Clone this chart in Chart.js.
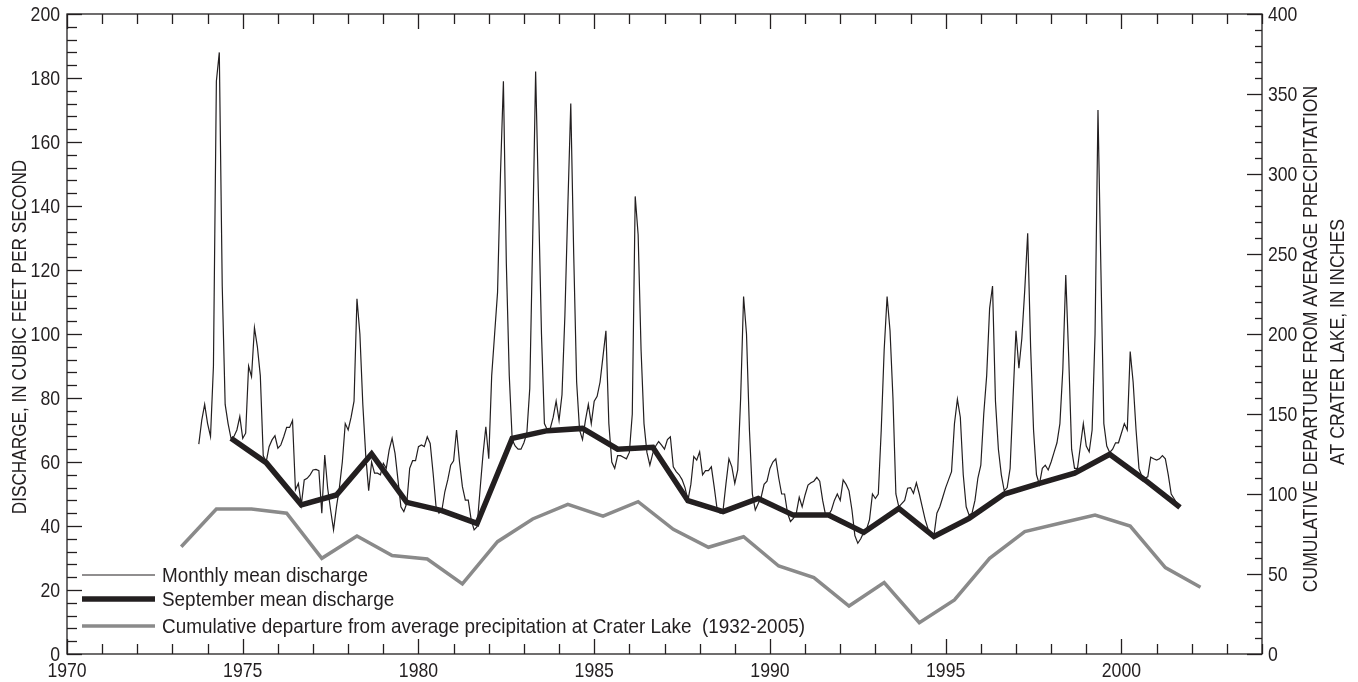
<!DOCTYPE html>
<html>
<head>
<meta charset="utf-8">
<title>Monthly and September mean discharge</title>
<script src="https://cdn.jsdelivr.net/npm/chart.js@4.4.1/dist/chart.umd.min.js"></script>
<style>
  html, body { margin: 0; padding: 0; background: #fff; }
  #chart { display: block; }
</style>
</head>
<body>
<canvas id="chart" width="1358" height="682"></canvas>
<script>
// monthly mean discharge, water years 1974-2001 (Oct..Sep), cfs
const monthlyStartYear = 1973;
const monthlyStartMonth = 10;
const monthlyDischarge = [
  65.6, 73, 78, 72, 68, 90, 179, 188, 115, 78, 72, 67.4,
  68, 70, 74.2, 67.4, 69, 90, 86.7, 102, 96, 87, 62, 60,
  64.8, 66.9, 68.2, 64.3, 65.3, 67.9, 70.8, 70.8, 73, 51.3, 53.3, 46.6,
  54.4, 54.9, 56, 57.5, 57.7, 57.3, 44, 62.2, 51.8, 45, 38.8, 46,
  52, 60, 72, 70, 74, 79, 111, 100, 78, 62, 51, 60,
  56.5, 56.5, 56, 59.6, 58, 63.8, 67.4, 62.7, 54.4, 46, 44.5, 47.1,
  58, 60.4, 60.4, 64.8, 65.3, 64.8, 67.9, 65.8, 56.5, 46, 44, 45,
  50.7, 54.4, 59, 60.4, 70, 60.1, 52.3, 48.1, 48.1, 41.9, 38.8, 39.8,
  51, 62, 71, 61, 87, 100, 113, 150, 179, 122, 87, 67,
  65, 64, 64, 66, 69, 83, 130, 182, 141, 100, 72, 70,
  70.5, 74, 79, 73, 81, 106, 140, 172, 125, 85, 70, 67,
  73, 78, 72, 79, 80.5, 85, 93, 101, 72, 60, 58, 62,
  62, 61.5, 61, 63, 75, 143, 131, 95, 72, 63, 59, 62.7,
  65, 66.4, 65.3, 64, 67, 67.9, 58.5, 57, 56, 54.5, 52, 48,
  53, 61.7, 60.6, 63.2, 56, 57.3, 57.3, 58.5, 52, 45, 44, 45,
  53.3, 61, 58.5, 53.3, 57.5, 80, 111.7, 100, 70, 50, 45, 47,
  49, 53, 54, 58, 60, 61, 55, 50, 50, 44, 41.4, 42.4,
  44, 49, 46, 49.7, 52.8, 53.5, 54, 55.2, 54, 48, 43.4, 43.4,
  45, 48, 50, 48, 54.4, 53, 51, 45, 37, 34.6, 36, 38,
  39, 42, 50, 48.6, 50, 70, 95, 111.7, 101, 80, 50, 46,
  47, 48, 51.8, 52, 50.2, 53.5, 50, 46, 42, 39, 38, 37,
  44, 46, 49, 52, 54.5, 57, 72, 79.6, 74, 56, 46, 43.4,
  44, 48, 55, 59, 75, 87, 108, 115, 79, 64, 56, 51,
  52, 58, 80, 101, 89.3, 98.6, 113.8, 131.5, 96, 70, 56, 53,
  58, 59, 57.5, 60, 63, 66, 72, 89, 118.4, 93, 64, 58,
  58, 65, 72, 65, 63.2, 70, 100, 170, 120, 72, 65, 63,
  64, 66, 66, 69, 72, 70, 94.5, 85, 70, 58, 55.5, 55,
  55.4, 61.5, 61, 60.6, 61, 62, 61, 56, 50, 48.5, 47, 46
];

// September mean discharge, cfs
const septYears = [
  1974, 1975, 1976, 1977, 1978, 1979, 1980, 1981, 1982, 1983, 1984, 1985, 1986, 1987,
  1988, 1989, 1990, 1991, 1992, 1993, 1994, 1995, 1996, 1997, 1998, 1999, 2000, 2001
];
const septDischarge = [
  67.4, 59.8, 46.6, 49.7, 62.5, 47.4, 44.8, 40.8, 67.4, 69.8, 70.5, 64.0, 64.6, 47.9,
  44.5, 48.6, 43.4, 43.4, 38.0, 45.5, 36.7, 42.4, 50.0, 53.3, 56.5, 62.4, 54.4, 45.8
];

// cumulative departure from average precipitation at Crater Lake, inches
const precipYears = [
  1973, 1974, 1975, 1976, 1977, 1978, 1979, 1980, 1981, 1982, 1983, 1984, 1985, 1986, 1987,
  1988, 1989, 1990, 1991, 1992, 1993, 1994, 1995, 1996, 1997, 1998, 1999, 2000, 2001, 2002
];
const precipDeparture = [
  67, 90.6, 90.6, 88, 59.8, 73.8, 61.5, 59.4, 43.8, 70.2, 84.4, 93.5, 86.2, 95.2, 77.9,
  66.7, 73.3, 55, 47.7, 30, 44.6, 19.6, 33.8, 59.8, 76.5, 81.7, 86.9, 80, 54, 41.7
];

const xTickLabels = [1970, 1975, 1980, 1985, 1990, 1995, 2000];
const dischargeTicks = [0, 20, 40, 60, 80, 100, 120, 140, 160, 180, 200];
const departureTicks = [0, 50, 100, 150, 200, 250, 300, 350, 400];

const X_MIN = 1970;
const X_MAX = 2004;
const X_MINOR_STEP = 1;
const Y_MINOR_STEP = 4;
const Y1_MINOR_STEP = 10;

const INK = '#231f20';
const GRAY = '#8a8a8a';
const FONT_FAMILY = "'Liberation Sans', Arial, sans-serif";

const monthlyPoints = monthlyDischarge.map((v, k) => ({
  x: monthlyStartYear + (monthlyStartMonth - 1 + k) / 12,
  y: v,
}));
const septPoints = septYears.map((yr, i) => ({ x: yr + 8 / 12, y: septDischarge[i] }));
const precipPoints = precipYears.map((yr, i) => ({ x: yr + 3 / 12, y: precipDeparture[i] }));

function strokeLine(ctx, x1, y1, x2, y2) {
  ctx.beginPath();
  ctx.moveTo(x1, y1);
  ctx.lineTo(x2, y2);
  ctx.stroke();
}

// condensed text: the original face is a condensed sans, so squeeze horizontally
function drawText(ctx, text, x, y, { size = 21, squeeze = 0.84, align = 'center', rotate = 0 } = {}) {
  ctx.save();
  ctx.translate(x, y);
  if (rotate) ctx.rotate(rotate);
  ctx.scale(squeeze, 1);
  ctx.font = `${size}px ${FONT_FAMILY}`;
  ctx.fillStyle = INK;
  ctx.textAlign = align;
  ctx.textBaseline = 'middle';
  ctx.fillText(text, 0, 0);
  ctx.restore();
}

const frameAndTicks = {
  id: 'frameAndTicks',
  afterDraw(chart) {
    const { ctx, chartArea } = chart;
    const { left, right, top, bottom } = chartArea;
    const xs = chart.scales.x;
    const ys = chart.scales.y;
    const ys1 = chart.scales.y1;

    ctx.save();
    ctx.strokeStyle = INK;
    ctx.lineWidth = 1.3;
    ctx.strokeRect(left, top, right - left, bottom - top);

    for (let v = X_MIN; v <= X_MAX; v += X_MINOR_STEP) {
      const px = Math.round(xs.getPixelForValue(v)) + 0.5;
      const len = xTickLabels.includes(v) ? 15 : 10;
      strokeLine(ctx, px, bottom, px, bottom - len);
      strokeLine(ctx, px, top, px, top + len);
    }
    for (let v = 0; v <= 200; v += Y_MINOR_STEP) {
      const py = Math.round(ys.getPixelForValue(v)) + 0.5;
      const len = dischargeTicks.includes(v) ? 15 : 10;
      strokeLine(ctx, left, py, left + len, py);
    }
    for (let v = 0; v <= 400; v += Y1_MINOR_STEP) {
      const py = Math.round(ys1.getPixelForValue(v)) + 0.5;
      const len = departureTicks.includes(v) ? 15 : 7;
      strokeLine(ctx, right, py, right - len, py);
    }

    xTickLabels.forEach((v) => drawText(ctx, String(v), xs.getPixelForValue(v), bottom + 17));
    dischargeTicks.forEach((v) => drawText(ctx, String(v), left - 7, ys.getPixelForValue(v) + 1, { align: 'right' }));
    departureTicks.forEach((v) => drawText(ctx, String(v), right + 6, ys1.getPixelForValue(v) + 1, { align: 'left' }));

    const midY = (top + bottom) / 2;
    drawText(ctx, 'DISCHARGE, IN CUBIC FEET PER SECOND', 20, midY + 3,
      { size: 20, squeeze: 0.86, rotate: -Math.PI / 2 });
    drawText(ctx, 'CUMULATIVE DEPARTURE FROM AVERAGE PRECIPITATION', 1311, midY + 5,
      { size: 20, squeeze: 0.88, rotate: -Math.PI / 2 });
    drawText(ctx, 'AT CRATER LAKE, IN INCHES', 1338, midY + 8,
      { size: 20, squeeze: 0.88, rotate: -Math.PI / 2 });

    // legend, lower left inside the plot
    const legendRows = [bottom - 79, bottom - 55, bottom - 28];
    const sampleX0 = left + 15;
    const sampleX1 = left + 88;
    chart.data.datasets.forEach((ds, i) => {
      const ry = legendRows[i];
      ctx.strokeStyle = ds.borderColor;
      ctx.lineWidth = ds.borderWidth;
      ctx.lineCap = 'butt';
      strokeLine(ctx, sampleX0, ry, sampleX1, ry);
      drawText(ctx, ds.label, sampleX1 + 7, ry + 1, { size: 21, squeeze: 0.9, align: 'left' });
    });
    ctx.restore();
  },
};

const hiddenTicks = { display: false };

new Chart(document.getElementById('chart').getContext('2d'), {
  type: 'line',
  data: {
    datasets: [
      {
        label: 'Monthly mean discharge',
        data: monthlyPoints,
        borderColor: INK,
        borderWidth: 1.2,
        pointRadius: 0,
        tension: 0,
        yAxisID: 'y',
        order: 1,
      },
      {
        label: 'September mean discharge',
        data: septPoints,
        borderColor: INK,
        borderWidth: 5.5,
        pointRadius: 0,
        tension: 0,
        yAxisID: 'y',
        order: 0,
      },
      {
        label: 'Cumulative departure from average precipitation at Crater Lake  (1932-2005)',
        data: precipPoints,
        borderColor: GRAY,
        borderWidth: 3.5,
        pointRadius: 0,
        tension: 0,
        yAxisID: 'y1',
        order: 2,
      },
    ],
  },
  options: {
    responsive: false,
    animation: false,
    events: [],
    layout: { padding: { top: 14, left: 0, right: 0, bottom: 0 } },
    plugins: {
      legend: { display: false },
      tooltip: { enabled: false },
    },
    scales: {
      x: {
        type: 'linear',
        min: X_MIN,
        max: X_MAX,
        afterBuildTicks: (s) => { s.ticks = xTickLabels.map((v) => ({ value: v })); },
        afterFit: (s) => { s.height = 28; },
        grid: { display: false, drawTicks: false },
        border: { display: false },
        ticks: hiddenTicks,
      },
      y: {
        position: 'left',
        min: 0,
        max: 200,
        afterBuildTicks: (s) => { s.ticks = dischargeTicks.map((v) => ({ value: v })); },
        afterFit: (s) => { s.width = 67; },
        grid: { display: false, drawTicks: false },
        border: { display: false },
        ticks: hiddenTicks,
      },
      y1: {
        position: 'right',
        min: 0,
        max: 400,
        afterBuildTicks: (s) => { s.ticks = departureTicks.map((v) => ({ value: v })); },
        afterFit: (s) => { s.width = 96; },
        grid: { display: false, drawTicks: false },
        border: { display: false },
        ticks: hiddenTicks,
      },
    },
  },
  plugins: [frameAndTicks],
});
</script>
</body>
</html>
